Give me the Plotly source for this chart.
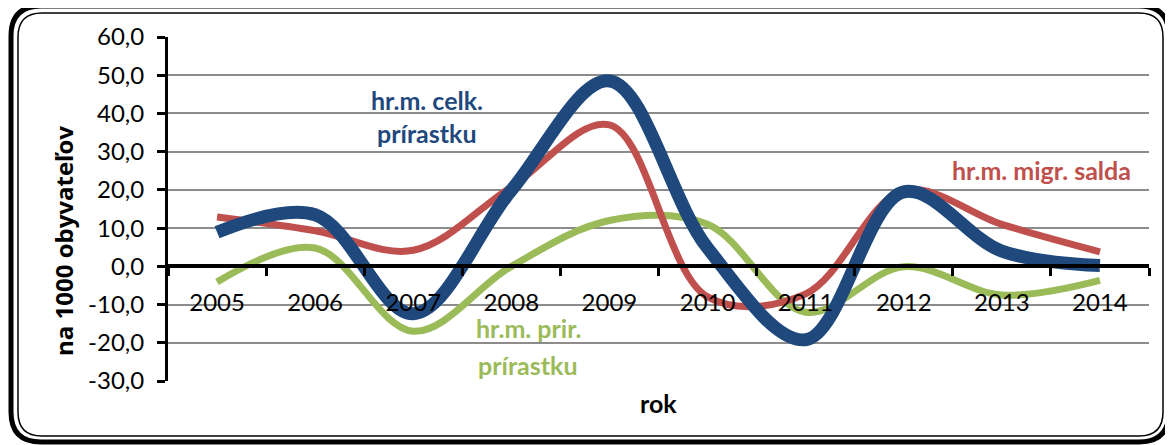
import plotly.graph_objects as go

years = ["2005", "2006", "2007", "2008", "2009", "2010", "2011", "2012", "2013", "2014"]
celk = [8.9, 13.5, -12.4, 19.9, 48.5, 4.8, -19.2, 19.5, 4.0, 0.2]
migr = [12.9, 9.3, 4.2, 20.8, 37.0, -8.0, -7.2, 19.8, 11.0, 3.8]
prir = [-4.1, 4.8, -17.0, 0.0, 12.0, 11.0, -12.0, -0.1, -7.5, -3.7]
y_ticks = [-30, -20, -10, 0, 10, 20, 30, 40, 50, 60]
y_tick_labels = ["-30,0", "-20,0", "-10,0", "0,0", "10,0", "20,0", "30,0", "40,0", "50,0", "60,0"]

BLUE = "#1F497D"
RED = "#C0504D"
GREEN = "#9BBB59"
FONT = "Lato"

OFF = 8  # default page body margin
PW, PH = 1173, 445
L, R, T, B = 168, 1149, 37, 381  # plot area in page pixels

def px(x):
    return (x - L) / (R - L)

def py(y):
    return (B - y) / (B - T)

fig = go.Figure()
fig.add_trace(go.Scatter(x=years, y=prir, mode="lines",
                         line=dict(color=GREEN, width=7, shape="spline", smoothing=1.0),
                         hoverinfo="skip", showlegend=False))
fig.add_trace(go.Scatter(x=years, y=migr, mode="lines",
                         line=dict(color=RED, width=7, shape="spline", smoothing=1.0),
                         hoverinfo="skip", showlegend=False))
fig.add_trace(go.Scatter(x=years, y=celk, mode="lines",
                         line=dict(color=BLUE, width=13, shape="spline", smoothing=1.0),
                         hoverinfo="skip", showlegend=False))

def rrect(x0, y0, x1, y1, r):
    def P(x, y):
        return f"{px(x):.5f},{py(y):.5f}"
    return (f"M {P(x0 + r, y0)} L {P(x1 - r, y0)} Q {P(x1, y0)} {P(x1, y0 + r)} "
            f"L {P(x1, y1 - r)} Q {P(x1, y1)} {P(x1 - r, y1)} "
            f"L {P(x0 + r, y1)} Q {P(x0, y1)} {P(x0, y1 - r)} "
            f"L {P(x0, y0 + r)} Q {P(x0, y0)} {P(x0 + r, y0)} Z")

shapes = [
    dict(type="path", xref="paper", yref="paper", path=rrect(11, 6, 1169, 442, 30),
         line=dict(color="black", width=5), layer="below"),
    dict(type="path", xref="paper", yref="paper", path=rrect(18, 13, 1163, 436, 24),
         line=dict(color="black", width=1.5), layer="below"),
]

def ann(text, x, y, color, size, angle=0, family=FONT):
    return dict(text=text, x=px(x), y=py(y), xref="paper", yref="paper",
                xanchor="center", yanchor="middle", showarrow=False, textangle=angle,
                font=dict(family=family, size=size, color=color))

annotations = [
    ann("<b>hr.m. celk.</b>", 427, 100, BLUE, 25),
    ann("<b>prírastku</b>", 427, 133, BLUE, 25),
    ann("<b>hr.m. migr. salda</b>", 1041, 170, RED, 25),
    ann("<b>hr.m. prir.</b>", 528, 328, GREEN, 25),
    ann("<b>prírastku</b>", 528, 365, GREEN, 25),
    ann("<b>na 1000 obyvateľov</b>", 64, 241, "black", 24, -90, "Open Sans"),
    ann("<b>rok</b>", 658, 403, "black", 25),
]

fig.update_layout(
    width=PW - OFF, height=PH - OFF,
    margin=dict(l=L - OFF, r=PW - R, t=T - OFF, b=PH - B, pad=0),
    paper_bgcolor="white", plot_bgcolor="white",
    font=dict(family=FONT, size=24, color="black"),
    shapes=shapes, annotations=annotations,
    xaxis=dict(type="category", range=[-0.5, 9.5], anchor="free",
               position=py(266), showline=True, linecolor="black", linewidth=4,
               ticks="outside", tickson="boundaries", ticklen=8, tickwidth=3,
               tickcolor="black", showgrid=False, zeroline=False,
               tickfont=dict(family=FONT, size=24, color="black"),
               ticklabelstandoff=14),
    yaxis=dict(range=[-30, 60], tickvals=y_ticks, ticktext=y_tick_labels,
               showline=True, linecolor="black", linewidth=3,
               ticks="outside", ticklen=8, tickwidth=3, tickcolor="black",
               showgrid=True, gridcolor="#8C8C8C", gridwidth=2, zeroline=False,
               tickfont=dict(family=FONT, size=24, color="black"),
               ticklabelstandoff=8),
)

fig.write_html("out.html")
